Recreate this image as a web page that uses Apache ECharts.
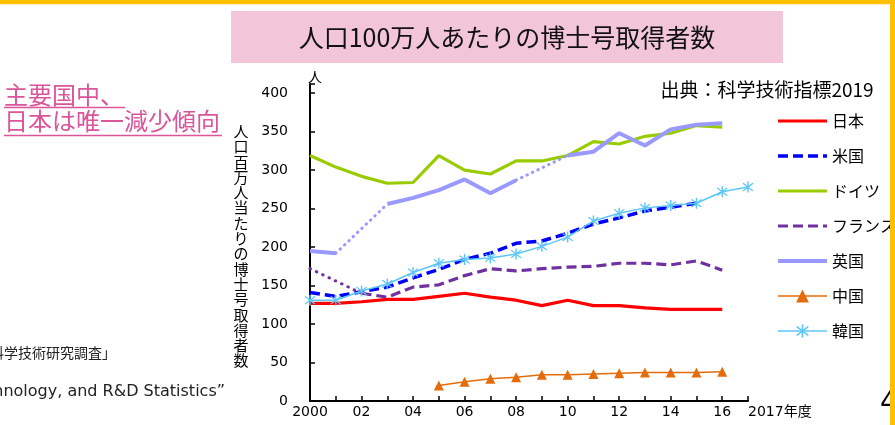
<!DOCTYPE html>
<html style="height: 100%">
    <head>
        <meta charset="utf-8">
    </head>
    <body style="height: 100%; margin: 0">
        <div id="container" style="width: 895px; height: 425px"></div>

        <script type="text/javascript" src="https://cdn.jsdelivr.net/npm/echarts@6/dist/echarts.min.js"></script>

        <script type="text/javascript">
var dom = document.getElementById("container");
var myChart = echarts.init(dom);

var option;

// 年度 (2000-2017)
var years = ['2000', '2001', '2002', '2003', '2004', '2005', '2006', '2007', '2008',
    '2009', '2010', '2011', '2012', '2013', '2014', '2015', '2016', '2017'];

var japan   = [127, 127, 129, 132, 132, 136, 140, 135, 131, 124, 131, 124, 124, 121, 119, 119, 119, null];
var usa     = [141, 136, 142, 148, 160, 171, 184, 192, 205, 208, 218, 230, 238, 247, 252, 257, null, null];
var germany = [319, 304, 292, 283, 284, 319, 300, 295, 312, 312, 319, 337, 334, 344, 348, 358, 356, null];
var france  = [172, null, 140, 135, 148, 151, 163, 172, 169, 172, 174, 175, 179, 179, 177, 182, 170, null];
var uk      = [195, 192, null, 256, 264, 274, 288, 270, 287, null, 319, 324, 348, 332, 353, 359, 361, null];
var china   = [null, null, null, null, null, 20, 25, 29, 31, 34, 34, 35, 36, 37, 37, 37, 38, null];
var korea   = [131, 131, 143, 152, 167, 179, 184, 186, 191, 201, 213, 234, 244, 251, 254, 257, 272, 278];

var legendNames = ['日本', '米国', 'ドイツ', 'フランス', '英国', '中国', '韓国'];
// マーカー無しの系列 (凡例の丸を消す)
var noMarker = ['日本', '米国', 'ドイツ', 'フランス', '英国'];

var yTitle = '人口百万人当たりの博士号取得者数';

// 6本腕のアスタリスク
var asterisk = 'path://M9 0L11 0L11 20L9 20Z M3.7 2.3L17.7 16.3L16.3 17.7L2.3 3.7Z M16.3 2.3L17.7 3.7L3.7 17.7L2.3 16.3Z';

// 欠測年を点線でつなぐ
var gapLines = function (values, color, width, dash) {
    var res = [];
    var last = -1;
    for (var i = 0; i < values.length; i++) {
        if (values[i] == null) continue;
        if (last >= 0 && i - last > 1) {
            var d = [];
            for (var k = 0; k < values.length; k++) d.push(null);
            d[last] = values[last];
            d[i] = values[i];
            res.push({
                name: 'gap' + i,
                type: 'line',
                data: d,
                connectNulls: true,
                symbol: 'none',
                silent: true,
                lineStyle: { color: color, width: width, type: dash, cap: 'round' }
            });
        }
        last = i;
    }
    return res;
};

var series = [
    {
        name: '日本', type: 'line', data: japan, symbol: 'none',
        color: '#FF0000',
        lineStyle: { width: 3.2 }
    },
    {
        name: '米国', type: 'line', data: usa, symbol: 'none',
        color: '#0000FF',
        lineStyle: { width: 3.5, type: [10, 5] }
    },
    {
        name: 'ドイツ', type: 'line', data: germany, symbol: 'none',
        color: '#99CC00',
        lineStyle: { width: 3.2 }
    },
    {
        name: 'フランス', type: 'line', data: france, symbol: 'none',
        color: '#7030A0',
        lineStyle: { width: 3.2, type: [10, 5] }
    },
    {
        name: '英国', type: 'line', data: uk, symbol: 'none',
        color: '#9999FF',
        lineStyle: { width: 4 }
    },
    {
        name: '中国', type: 'line', data: china,
        symbol: 'triangle', symbolSize: 10,
        color: '#E46C0A',
        lineStyle: { width: 1.5 }
    },
    {
        name: '韓国', type: 'line', data: korea,
        symbol: asterisk, symbolSize: 11,
        color: '#5CC6F7',
        lineStyle: { width: 1.5 }
    }
];

// 凡例は系列の線幅をそのまま使う
var legendData = series.map(function (s) {
    var item = { name: s.name, lineStyle: { width: s.lineStyle.width } };
    if (noMarker.indexOf(s.name) >= 0) {
        item.itemStyle = { opacity: 0 };
    }
    return item;
});

series = series.concat(gapLines(uk, '#9999FF', 3, [0.5, 5.5]));
series = series.concat(gapLines(france, '#7030A0', 3, [0.5, 6.5]));

option = {
    animation: false,
    backgroundColor: '#ffffff',
    grid: {
        left: 310,
        right: 147,
        top: 84,
        bottom: 24
    },
    legend: {
        data: legendData,
        orient: 'vertical',
        left: 776,
        top: 113,
        padding: 0,
        itemWidth: 49,
        itemHeight: 16,
        itemGap: 19,
        textStyle: {
            fontFamily: 'Noto Sans CJK JP',
            fontSize: 16,
            color: '#000'
        }
    },
    xAxis: {
        type: 'category',
        data: years,
        boundaryGap: false,
        axisLine: { lineStyle: { color: '#000', width: 2 } },
        axisTick: { inside: true, length: 5, interval: 0, lineStyle: { color: '#000', width: 1.5 } },
        axisLabel: {
            interval: 0,
            margin: 4,
            alignMaxLabel: 'left',
            color: '#000',
            fontSize: 14,
            fontFamily: 'DejaVu Sans, Noto Sans CJK JP',
            formatter: function (v) {
                if (v === '2000') return v;
                if (v === '2017') return '2017年度';
                return (+v % 2 === 0) ? v.slice(2) : '';
            }
        },
        splitLine: { show: false }
    },
    yAxis: {
        type: 'value',
        min: 0,
        max: 412,
        interval: 50,
        name: '人',
        nameGap: 0,
        nameTextStyle: {
            fontFamily: 'Noto Sans CJK JP',
            fontSize: 14,
            color: '#000',
            padding: [0, 0, 0, 10]
        },
        axisLine: { show: true, lineStyle: { color: '#000', width: 2 } },
        axisTick: { show: true, inside: true, length: 5, lineStyle: { color: '#000', width: 1.5 } },
        axisLabel: {
            margin: 22,
            color: '#000',
            fontSize: 14,
            fontFamily: 'DejaVu Sans',
            formatter: function (v) {
                return v % 50 === 0 ? v : '';
            }
        },
        splitLine: { show: false }
    },
    graphic: [
        {
            type: 'rect', shape: { x: 231, y: 11, width: 552, height: 52 },
            style: { fill: '#F2C5D9' }, z: 1
        },
        {
            type: 'text', x: 507, y: 37, z: 2,
            style: {
                text: '人口100万人あたりの博士号取得者数',
                fontFamily: 'Noto Sans CJK JP', fontSize: 25, fill: '#111',
                align: 'center', verticalAlign: 'middle'
            }
        },
        {
            type: 'text', x: 4, y: 95,
            style: {
                text: '主要国中、', fontFamily: 'Noto Sans CJK JP', fontSize: 24,
                fill: '#DA5599', verticalAlign: 'middle'
            }
        },
        {
            type: 'text', x: 4, y: 121,
            style: {
                text: '日本は唯一減少傾向', fontFamily: 'Noto Sans CJK JP', fontSize: 24,
                fill: '#DA5599', verticalAlign: 'middle'
            }
        },
        {
            type: 'line', shape: { x1: 4, y1: 107.5, x2: 125, y2: 107.5 },
            style: { stroke: '#DA5599', lineWidth: 1.5 }
        },
        {
            type: 'line', shape: { x1: 4, y1: 135.5, x2: 222, y2: 135.5 },
            style: { stroke: '#DA5599', lineWidth: 1.5 }
        },
        {
            type: 'text', x: 241, y: 246,
            style: {
                text: yTitle.split('').join('\n'),
                fontFamily: 'Noto Sans CJK JP', fontSize: 15, lineHeight: 15.3,
                fill: '#000', align: 'center', verticalAlign: 'middle'
            }
        },
        {
            type: 'text', x: 767, y: 90,
            style: {
                text: '出典：科学技術指標2019', fontFamily: 'Noto Sans CJK JP', fontSize: 19,
                fill: '#000', align: 'center', verticalAlign: 'middle'
            }
        },
        {
            type: 'text', x: 116, y: 353,
            style: {
                text: '「科学技術研究調査」', fontFamily: 'Noto Sans CJK JP', fontSize: 14,
                fill: '#222', align: 'right', verticalAlign: 'middle'
            }
        },
        {
            type: 'text', x: 225, y: 392,
            style: {
                text: '“Science, Technology, and R&D Statistics”', fontFamily: 'DejaVu Sans', fontSize: 16,
                fill: '#222', align: 'right', verticalAlign: 'middle'
            }
        },
        {
            type: 'text', x: 880, y: 404,
            style: {
                text: '4', fontFamily: 'DejaVu Sans', fontSize: 28,
                fill: '#000', verticalAlign: 'middle'
            }
        },
        {
            type: 'rect', shape: { x: 0, y: 0, width: 895, height: 4.3 },
            style: { fill: '#FFC000' }, z: 10
        },
        {
            type: 'rect', shape: { x: 890, y: 0, width: 5, height: 425 },
            style: { fill: '#FFC000' }, z: 10
        }
    ],
    series: series
};

if (option && typeof option === 'object') {
    myChart.setOption(option);
}
        </script>
    </body>
</html>
